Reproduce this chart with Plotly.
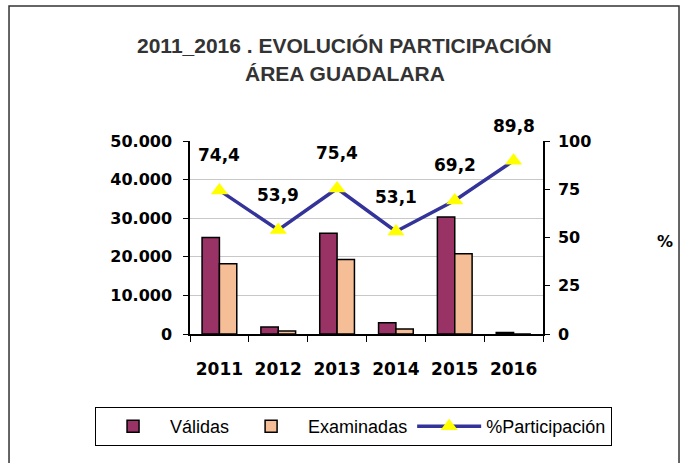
import plotly.graph_objects as go

years = ["2011", "2012", "2013", "2014", "2015", "2016"]
validas = [25000, 1800, 26100, 2900, 30300, 400]
examinadas = [18200, 800, 19300, 1300, 20800, 0]
participacion = [74.4, 53.9, 75.4, 53.1, 69.2, 89.8]

title_line1 = "2011_2016 . EVOLUCIÓN PARTICIPACIÓN"
title_line2 = "ÁREA GUADALARA"

BOLD = dict(family="DejaVu Sans", size=16, color="black", weight="bold")

fig = go.Figure()
fig.add_trace(go.Bar(
    x=years, y=validas, name="Válidas",
    marker=dict(color="#993366", line=dict(color="black", width=1.5)),
))
fig.add_trace(go.Bar(
    x=years, y=examinadas, name="Examinadas",
    marker=dict(color="#F6BE96", line=dict(color="black", width=1.5)),
))
fig.add_trace(go.Scatter(
    x=years, y=participacion, name="%Participación", yaxis="y2",
    mode="lines+markers",
    line=dict(color="#333399", width=3.5),
    marker=dict(symbol="triangle-up", color="#FFFF00", size=15, line=dict(width=0)),
))

annotations = []
for i, v in enumerate(participacion):
    annotations.append(dict(
        x=i, y=v, xref="x", yref="y2", yshift=35, showarrow=False,
        text=f"{v:.1f}".replace(".", ","),
        font=dict(family="DejaVu Sans", size=17, color="black", weight="bold"),
    ))

annotations += [
    dict(xref="paper", yref="paper", x=0.437, y=1.497, showarrow=False,
         xanchor="center", yanchor="middle", text=title_line1,
         font=dict(family="Liberation Sans", size=21, color="#333333", weight="bold")),
    dict(xref="paper", yref="paper", x=0.44, y=1.352, showarrow=False,
         xanchor="center", yanchor="middle", text=title_line2,
         font=dict(family="Liberation Sans", size=21, color="#333333", weight="bold")),
    dict(xref="paper", yref="paper", x=1.346, y=0.477, showarrow=False,
         xanchor="center", yanchor="middle", text="%",
         font=BOLD),
]

fig.update_layout(
    width=681, height=463,
    margin=dict(l=190, r=138, t=141, b=129, autoexpand=False),
    paper_bgcolor="white", plot_bgcolor="white",
    separators=",.",
    barmode="group", bargap=0.41, bargroupgap=0,
    showlegend=True,
    legend=dict(
        orientation="h", x=-0.269, y=-0.479, xanchor="left", yanchor="middle",
        bordercolor="black", borderwidth=1, bgcolor="white",
        font=dict(family="Liberation Sans", size=18, color="black"),
        itemwidth=64, traceorder="normal",
    ),
    xaxis=dict(
        type="category", range=[-0.5, 5.5], tickson="boundaries",
        ticks="outside", ticklen=6,
        tickcolor="black", showline=True, linecolor="black", linewidth=1.5,
        tickfont=dict(family="DejaVu Sans", size=17, color="black", weight="bold"),
        ticklabelstandoff=19, tickangle=0,
    ),
    yaxis=dict(
        range=[0, 50000], dtick=10000, tickformat=",d",
        showgrid=True, gridcolor="#c8c8c8", gridwidth=1,
        ticks="outside", ticklen=5, tickcolor="black",
        showline=True, linecolor="black", linewidth=1.5,
        tickfont=BOLD, ticklabelstandoff=8, zeroline=False,
    ),
    yaxis2=dict(
        range=[0, 100], dtick=25, overlaying="y", side="right",
        showgrid=False, ticks="outside", ticklen=5, tickcolor="black",
        showline=True, linecolor="black", linewidth=1.5,
        tickfont=BOLD, ticklabelstandoff=5, zeroline=False,
    ),
    annotations=annotations,
    shapes=[dict(type="rect", xref="paper", yref="paper",
                 x0=-0.5127, x1=1.3853, y0=-0.72, y1=1.6995,
                 line=dict(color="#333333", width=1.5), layer="above")],
)

fig.write_html(
    "out.html",
    config={"displayModeBar": False},
    post_script="document.body.style.margin='0';document.body.style.overflow='hidden';",
)
